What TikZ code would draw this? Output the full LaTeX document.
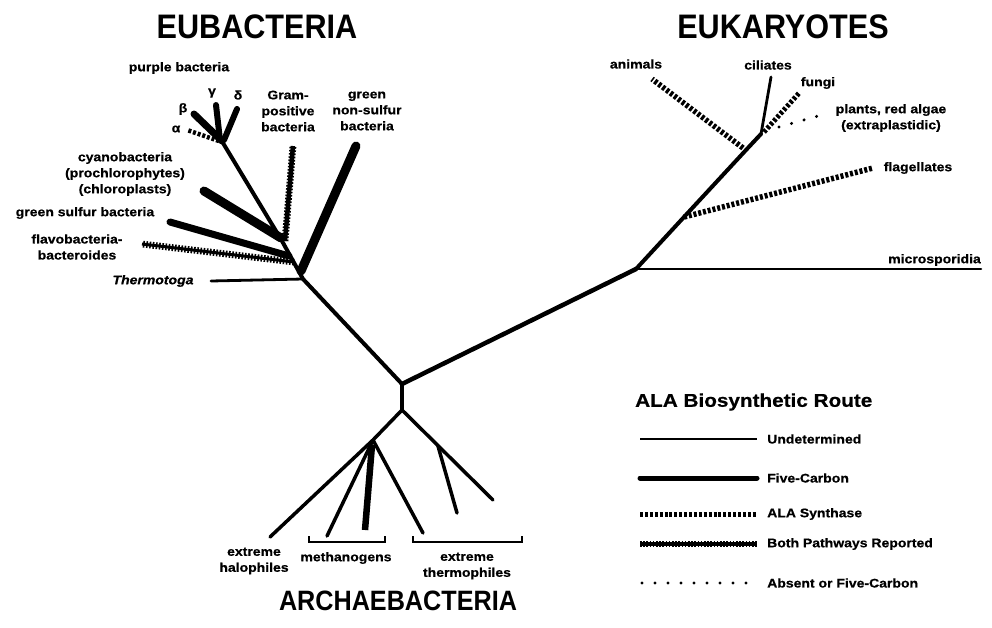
\documentclass[tikz,border=0pt]{standalone}
\usepackage{fontspec}
\setmainfont{Liberation Sans}
\newfontfamily\titlefont[FakeStretch=0.9]{Liberation Sans}
\newfontfamily\labfont[FakeStretch=1.12, FakeBold=0.6]{Liberation Sans}
\begin{document}
\begin{tikzpicture}[x=1pt,y=-1pt,
  trunk/.style={line width=4, line cap=round, line join=round},
  undet/.style={line width=2.8, line cap=round},
  five/.style={line width=8, line cap=round},
  ala/.style={line width=5.5, dash pattern=on 3 off 1.9},
  both/.style={line width=4, preaction={draw, line width=6.8, dash pattern=on 1.6 off 1.6}},
  absent/.style={line width=3.4, line cap=round, dash pattern=on 0pt off 13pt},
  lab/.style={font=\labfont\bfseries\fontsize{12.5}{16}\selectfont, inner sep=0, align=center},
  title/.style={font=\titlefont\bfseries\fontsize{34}{36}\selectfont, inner sep=0},
  brack/.style={line width=1.6}
]
\useasboundingbox (0,0) rectangle (992,627);

% ---------- titles
\node[title] (teub) at (257,27) {EUBACTERIA};
\node[title] (teuk) at (783,27) {EUKARYOTES};
\node[title, font=\titlefont\bfseries\fontsize{28}{30}\selectfont] (tarc) at (398,601) {ARCHAEBACTERIA};

% ---------- main trunk coordinates
\coordinate (R) at (402,384);
\coordinate (E) at (303,279);
\coordinate (C) at (282,241);
\coordinate (P) at (223,143);
\coordinate (K) at (636,269);
\coordinate (F) at (684,217);
\coordinate (A) at (746,150);
\coordinate (Tp) at (761,134);
\coordinate (Q) at (402,410);
\coordinate (L) at (373,440);
\coordinate (J) at (438,446);

% ---------- eubacteria
\coordinate (T) at (211,281);
\coordinate (gn0) at (301,271); \coordinate (gn1) at (356,146);
\coordinate (gp0) at (285,241); \coordinate (gp1) at (293,146);
\coordinate (cy0) at (281,238); \coordinate (cy1) at (204,191);
\coordinate (gs0) at (289,256); \coordinate (gs1) at (170,222);
\coordinate (fb0) at (294,262); \coordinate (fb1) at (142,244);
\coordinate (al0) at (219,141); \coordinate (al1) at (187,130);
\coordinate (be0) at (222,141); \coordinate (be1) at (194,114);
\coordinate (ga0) at (220,140); \coordinate (ga1) at (216,105);
\coordinate (de0) at (224,140); \coordinate (de1) at (237,109);

\draw[trunk] (R) -- (E) -- (C) -- (P);
\draw[undet] (E) -- (T);
\draw[five, line width=9] (gn0) -- (gn1);
\draw[both, line width=4.5] (gp0) -- (gp1);
\draw[five, line width=9] (cy0) -- (cy1);
\draw[five, line width=7] (gs0) -- (gs1);
\draw[both, line width=3] (fb0) -- (fb1);
\draw[ala, line width=4.5] (al0) -- (al1);
\draw[five, line width=7] (be0) -- (be1);
\draw[five, line width=6] (ga0) -- (ga1);
\draw[five, line width=6] (de0) -- (de1);

\node[lab] (lpur) at (179,68) {purple bacteria};
\node[lab] (lal) at (176,129) {α};
\node[lab] (lbe) at (183,109) {β};
\node[lab] (lga) at (212,93) {γ};
\node[lab] (lde) at (238,95) {δ};
\node[lab] (lgp) at (288,111) {Gram-\\positive\\bacteria};
\node[lab] (lgn) at (367,111) {green\\non-sulfur\\bacteria};
\node[lab] (lcy) at (125,174) {cyanobacteria\\(prochlorophytes)\\(chloroplasts)};
\node[lab] (lgs) at (85,213) {green sulfur bacteria};
\node[lab] (lfb) at (77,247) {flavobacteria-\\bacteroides};
\node[lab, font=\labfont\bfseries\itshape\fontsize{12.5}{16}\selectfont] (lth) at (153,281) {Thermotoga};

% ---------- eukaryotes
\coordinate (ms) at (981,269);
\coordinate (fl) at (873,168);
\coordinate (an0) at (743,148); \coordinate (an1) at (652,79);
\coordinate (ci) at (771,77);
\coordinate (fu0) at (764,132); \coordinate (fu1) at (800,92);
\coordinate (pl0) at (779,127); \coordinate (pl1) at (818,116);

\draw[trunk, line width=4.5] (R) -- (K);
\draw[trunk] (K) -- (F) -- (A) -- (Tp);
\draw[undet, line width=2.5] (K) -- (ms);
\draw[ala] (F) -- (fl);
\draw[ala] (an0) -- (an1);
\draw[undet] (Tp) -- (ci);
\draw[ala, line width=5] (fu0) -- (fu1);
\draw[absent] (pl0) -- (pl1);

\node[lab] (lan) at (636,64) {animals};
\node[lab] (lci) at (768,65) {ciliates};
\node[lab] (lfu) at (818,83) {fungi};
\node[lab] (lpl) at (891,118) {plants, red algae\\(extraplastidic)};
\node[lab] (lfl) at (918,168) {flagellates};
\node[lab, anchor=east] (lms) at (981,260) {microsporidia};

% ---------- archaebacteria
\coordinate (ha) at (270,537);
\coordinate (me1) at (327,536);
\coordinate (me2) at (365,530);
\coordinate (me2s) at (372,445);
\coordinate (me3) at (423,533);
\coordinate (th1) at (457,513);
\coordinate (th2) at (493,500);

\draw[trunk] (R) -- (Q);
\draw[trunk, line width=3.5] (Q) -- (L) -- (ha);
\draw[trunk, line width=3.5] (Q) -- (th2);
\draw[undet, line width=3.5] (J) -- (th1);
\draw[undet, line width=3.5] (L) -- (me1);
\draw[undet, line width=3.5] (L) -- (me3);
\draw[five, line width=6.5, line cap=butt] (me2s) -- (me2);

\coordinate (mb1) at (309,536); \coordinate (mb2) at (385,536);
\coordinate (tb1) at (413,536); \coordinate (tb2) at (522,536);
\draw[brack] (mb1) -- ++(0,6) -| (mb2);
\draw[brack] (tb1) -- ++(0,6) -| (tb2);

\node[lab] (lha) at (254,561) {extreme\\halophiles};
\node[lab] (lme) at (346,558) {methanogens};
\node[lab] (lth2) at (467,566) {extreme\\thermophiles};

% ---------- legend
\node[font=\labfont\bfseries\fontsize{18.5}{20}\selectfont, inner sep=0, anchor=west] (legt) at (635,402) {ALA Biosynthetic Route};
\coordinate (u0) at (640,439); \coordinate (u1) at (757,439);
\coordinate (f0) at (640,478); \coordinate (f1) at (757,478);
\coordinate (s0) at (640,514); \coordinate (s1) at (757,514);
\coordinate (b0) at (640,544); \coordinate (b1) at (757,544);
\coordinate (d0) at (642,583); \coordinate (d1) at (757,583);
\draw[undet, line width=2.5, line cap=butt] (u0) -- (u1);
\draw[five, line width=5, line cap=round] (f0) -- (f1);
\draw[ala, line width=5] (s0) -- (s1);
\draw[both, line width=3.5] (b0) -- (b1);
\draw[absent] (d0) -- (d1);
\node[lab, anchor=west] (lu) at (767,439) {Undetermined};
\node[lab, anchor=west] (lf) at (767,478) {Five-Carbon};
\node[lab, anchor=west] (ls) at (767,514) {ALA Synthase};
\node[lab, anchor=west] (lb) at (767,544) {Both Pathways Reported};
\node[lab, anchor=west] (ld) at (767,583) {Absent or Five-Carbon};
\end{tikzpicture}
\end{document}
